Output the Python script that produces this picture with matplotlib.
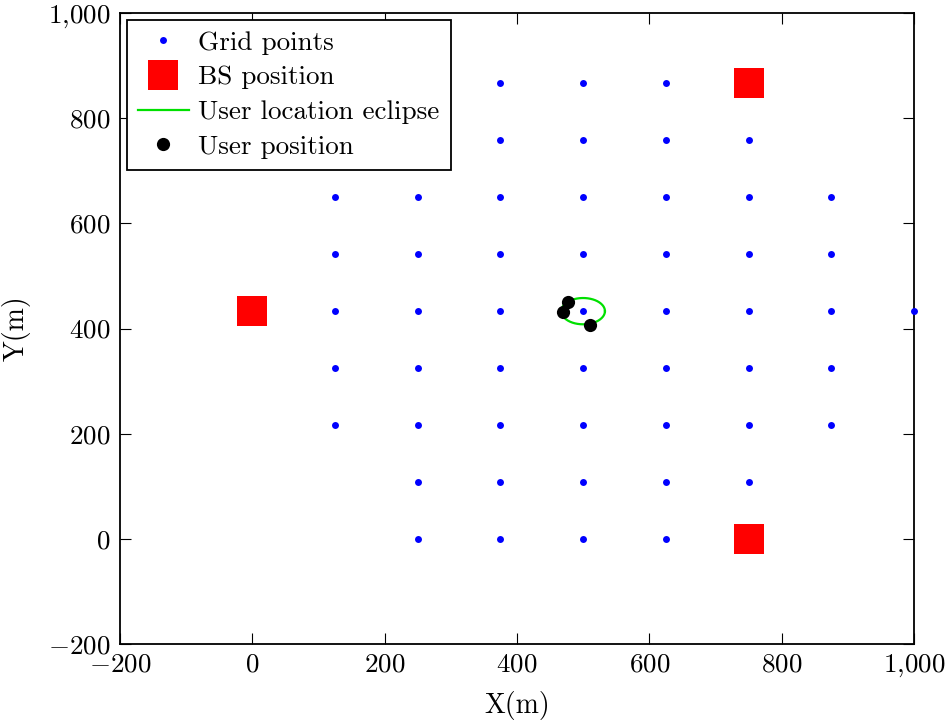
import numpy as np
import matplotlib.pyplot as plt

plt.rcParams["font.family"] = "serif"
plt.rcParams["font.serif"] = ["cmr10"]
plt.rcParams["mathtext.fontset"] = "cm"
plt.rcParams["axes.formatter.use_mathtext"] = True

# grid points, row by row (y level -> x positions)
row_y = [866, 758, 650, 542, 433, 325, 217, 108, 0]
row_x = [
    [375, 500, 625],
    [375, 500, 625, 750],
    [125, 250, 375, 500, 625, 750, 875],
    [125, 250, 375, 500, 625, 750, 875],
    [125, 250, 375, 500, 625, 750, 875, 1000],
    [125, 250, 375, 500, 625, 750, 875],
    [125, 250, 375, 500, 625, 750, 875],
    [250, 375, 500, 625, 750],
    [250, 375, 500, 625],
]

bs_x = [0, 750, 750]
bs_y = [433, 866, 0]

user_x = [477, 469, 510]
user_y = [450, 432, 407]

ell_center = (500, 433)
ell_axes = (33, 25)

ticks = [-200, 0, 200, 400, 600, 800, 1000]


def fmt(v):
    s = f"{abs(v):,}".replace(",", "{,}")
    return f"$-{s}$" if v < 0 else f"${s}$"


gx = [x for xs in row_x for x in xs]
gy = [y for y, xs in zip(row_y, row_x) for _ in xs]

fig = plt.figure(figsize=(9.52, 7.24), dpi=100)
ax = fig.add_axes([0.126, 0.1105, 0.834, 0.8715])

ax.plot(gx, gy, "o", color="blue", markersize=5, markeredgewidth=0,
        label="Grid points", zorder=3, clip_on=False)
ax.plot(bs_x, bs_y, "s", color="red", markersize=21, markeredgewidth=0,
        label="BS position", zorder=3)
t = np.linspace(0, 2 * np.pi, 200)
ax.plot(ell_center[0] + ell_axes[0] * np.cos(t),
        ell_center[1] + ell_axes[1] * np.sin(t),
        color="#00e000", lw=1.6, label="User location eclipse", zorder=4)
ax.plot(user_x, user_y, "o", color="black", markersize=9.5,
        markeredgewidth=0, label="User position", zorder=5)

ax.set_xlim(-200, 1000)
ax.set_ylim(-200, 1000)
ax.set_xticks(ticks)
ax.set_yticks(ticks)
ax.set_xticklabels([fmt(v) for v in ticks])
ax.set_yticklabels([fmt(v) for v in ticks])
ax.tick_params(direction="in", length=8, width=0.8, top=True, right=True,
               labelsize=19.5)
ax.tick_params(axis="x", pad=6)
ax.tick_params(axis="y", pad=7)
for sp in ax.spines.values():
    sp.set_linewidth(1.3)

ax.set_xlabel("X(m)", fontsize=20, labelpad=9)
ax.set_ylabel("Y(m)", fontsize=20, labelpad=12)

leg = ax.legend(loc="upper left", fontsize=19.5, numpoints=1, fancybox=False,
                framealpha=1, edgecolor="black", borderaxespad=0.25,
                handlelength=1.9, handletextpad=0.35, labelspacing=0.4,
                borderpad=0.4, markerscale=1.0)
leg.get_frame().set_linewidth(1.3)

fig.savefig("out.png", dpi=100)
